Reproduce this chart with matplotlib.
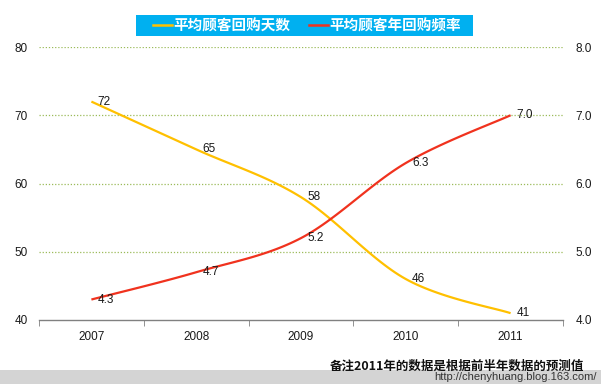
import numpy as np
import matplotlib
matplotlib.use("Agg")
import matplotlib.pyplot as plt
from matplotlib.lines import Line2D

plt.rcParams['font.family'] = ['Liberation Sans', 'Noto Sans CJK SC', 'DejaVu Sans']

years = ['2007', '2008', '2009', '2010', '2011']
days = [72, 65, 58, 46, 41]
freq = [4.3, 4.7, 5.2, 6.3, 7.0]
days_labels = ['72', '65', '58', '46', '41']
freq_labels = ['4.3', '4.7', '5.2', '6.3', '7.0']
series_names = ['平均顾客回购天数', '平均顾客年回购频率']
note = '备注2011年的数据是根据前半年数据的预测值'
watermark = 'http://chenyhuang.blog.163.com/'

YELLOW = '#FFC000'
RED = '#F0321E'


def smooth(x, y, n=30):
    x = np.asarray(x, float); y = np.asarray(y, float)
    px = np.concatenate([[x[0]], x, [x[-1]]])
    py = np.concatenate([[y[0]], y, [y[-1]]])
    xs, ys = [], []
    for i in range(1, len(px) - 2):
        p0 = np.array([px[i-1], py[i-1]]); p1 = np.array([px[i], py[i]])
        p2 = np.array([px[i+1], py[i+1]]); p3 = np.array([px[i+2], py[i+2]])
        c1 = p1 + (p2 - p0) / 6
        c2 = p2 - (p3 - p1) / 6
        s = np.linspace(0, 1, n)[:, None]
        b = (1-s)**3*p1 + 3*(1-s)**2*s*c1 + 3*(1-s)*s**2*c2 + s**3*p2
        xs.extend(b[:, 0]); ys.extend(b[:, 1])
    return np.array(xs), np.array(ys)


fig = plt.figure(figsize=(6.01, 3.84), dpi=100)
ax = fig.add_axes([39/601, 1 - 320/384, (563-39)/601, (320-47)/384])
ax2 = ax.twinx()

x = np.arange(len(years))
sx, sy = smooth(x, days)
ax.plot(sx, sy, color=YELLOW, lw=1.6, solid_capstyle='butt')
fx, fy = smooth(x, freq)
ax2.plot(fx, fy, color=RED, lw=1.6, solid_capstyle='butt')

for xi, v, l in zip(x, days, days_labels):
    ax.annotate(l, (xi, v), xytext=(4.5, 0), textcoords='offset points',
                ha='left', va='center', fontsize=8.5, color='#1a1a1a')
for xi, v, l in zip(x, freq, freq_labels):
    ax2.annotate(l, (xi, v), xytext=(4.5, 0), textcoords='offset points',
                 ha='left', va='center', fontsize=8.5, color='#1a1a1a')

ax.set_xlim(-0.5, len(years) - 0.5)
ax.set_ylim(40, 80)
ax2.set_ylim(4.0, 8.0)
ax.set_yticks([40, 50, 60, 70, 80])
ax2.set_yticks([4.0, 5.0, 6.0, 7.0, 8.0])
ax2.set_yticklabels(['4.0', '5.0', '6.0', '7.0', '8.0'])
ax.set_xticks(x)
ax.set_xticklabels(years)
ax.set_xticks(np.arange(-0.5, len(years)), minor=True)
ax.tick_params(axis='x', which='major', length=0, pad=8, labelsize=8.5, colors='#1a1a1a')
ax.tick_params(axis='x', which='minor', length=4, direction='out', color='#808080')
ax.tick_params(axis='y', length=0, pad=8, labelsize=8.5, labelcolor='#1a1a1a')
ax2.tick_params(axis='y', length=0, pad=9, labelsize=8.5, labelcolor='#1a1a1a')

for v in [50, 60, 70, 80]:
    ax.axhline(v, color='#9BBB59', lw=0.9, ls=(0, (1, 1.5)), zorder=0)

for a in (ax, ax2):
    for s in ['top', 'left', 'right']:
        a.spines[s].set_visible(False)
ax2.spines['bottom'].set_visible(False)
ax.spines['bottom'].set_color('#808080')
ax.spines['bottom'].set_linewidth(1.0)

# legend box
fig.patches.append(plt.Rectangle((136/601, 1 - 36/384), (473-136)/601, 21/384,
                                 transform=fig.transFigure, facecolor='#00B0F0',
                                 edgecolor='none', zorder=5))
handles = [Line2D([], [], color=YELLOW, lw=1.8), Line2D([], [], color=RED, lw=1.8)]
leg = fig.legend(handles, series_names, loc='center', bbox_to_anchor=(307/601, 1 - 25.5/384),
                 ncol=2, frameon=False, handlelength=1.3, handletextpad=0.1,
                 columnspacing=1.3, borderpad=0.0,
                 prop={'family': ['Noto Sans CJK SC'], 'size': 10.5, 'weight': 'bold'})
leg.set_zorder(6)
for t in leg.get_texts():
    t.set_color('white')

fig.text(330/601, 1 - 366/384, note, fontsize=9, fontweight='bold',
         family=['Noto Sans CJK SC'], ha='left', va='center', color='#111111')

fig.patches.append(plt.Rectangle((0, 0), 1, 14/384, transform=fig.transFigure,
                                 facecolor='#D4D4D4', edgecolor='none', zorder=-1))
fig.text(597/601, 1 - 377/384, watermark, fontsize=8, ha='right', va='center', color='#333333')

fig.savefig('out.png', dpi=100)
